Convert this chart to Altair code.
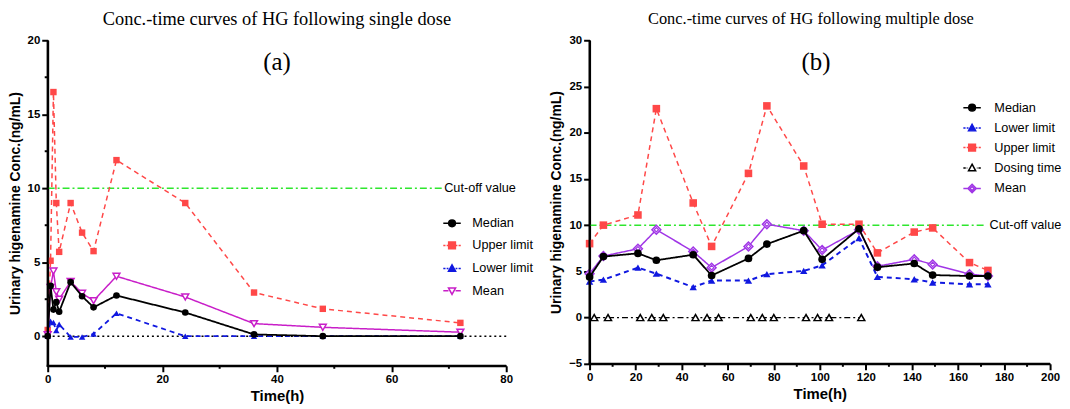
import altair as alt
import pandas as pd

# ---------------- Panel (a): single dose ----------------
a_time = [0, 0.5, 1, 1.5, 2, 4, 6, 8, 12, 24, 36, 48, 72]
a_median = [0, 3.4, 1.8, 2.3, 1.65, 3.65, 2.7, 1.95, 2.75, 1.6, 0.12, 0, 0]
a_upper = [0.42, 5.1, 16.5, 9.0, 5.7, 9.0, 7.0, 5.75, 11.9, 9.0, 2.95, 1.85, 0.9]
a_lower = [0, 1.0, 0.92, 0.38, 0.8, -0.05, -0.05, 0.15, 1.55, 0, 0, 0, 0]
a_mean = [0.1, 3.3, 4.4, 3.0, 2.5, 3.7, 2.9, 2.4, 4.05, 2.65, 0.85, 0.6, 0.27]
a_names = ["Median", "Upper limit", "Lower limit", "Mean"]
a_cutoff_end = 69
a_xdom = [0, 80]
a_ydom = [-2, 20]
a_xmajor = [0, 20, 40, 60, 80]
a_xminor = [10, 30, 50, 70]
a_ymajor = [0, 5, 10, 15, 20]
a_yminor = [2.5, 7.5, 12.5, 17.5]

# ---------------- Panel (b): multiple dose ----------------
b_time = [0, 6, 21, 29, 45, 53, 69, 77, 93, 101, 117, 125, 141, 149, 165, 173]
b_median = [4.4, 6.6, 6.95, 6.2, 6.8, 4.55, 6.4, 7.95, 9.4, 6.3, 9.6, 5.45, 5.85, 4.6, 4.5, 4.5]
b_lower = [3.9, 4.1, 5.4, 4.75, 3.3, 4.0, 4.0, 4.7, 5.05, 5.65, 8.6, 4.4, 4.15, 3.8, 3.6, 3.6]
b_upper = [8.0, 10.0, 11.1, 22.6, 12.4, 7.7, 15.6, 22.9, 16.4, 10.1, 10.1, 7.0, 9.25, 9.7, 5.95, 5.1]
b_mean = [4.75, 6.65, 7.45, 9.5, 7.15, 5.4, 7.7, 10.1, 9.4, 7.3, 9.5, 5.55, 6.3, 5.75, 4.7, 4.5]
b_dosing = [2, 8, 22, 27, 32, 46, 51, 56, 70, 75, 80, 94, 99, 104, 118]
b_names = ["Median", "Lower limit", "Upper limit", "Dosing time", "Mean"]
b_cutoff_end = 172
b_xdom = [0, 200]
b_ydom = [-5, 30]
b_xmajor = list(range(0, 201, 20))
b_xminor = list(range(10, 200, 20))
b_ymajor = [-5, 0, 5, 10, 15, 20, 25, 30]

cutoff = 10

# ---------------- styles ----------------
C_MED = "#000000"
C_UP = "#FF4848"
C_LO = "#1018E0"
C_MEAN_A = "#C81EC8"
C_MEAN_B = "#A035E6"
C_CUT = "#2EE62E"

SANS = "Liberation Sans"
SERIF = "Liberation Serif"

# legend glyphs (line + marker) as custom symbol paths
seg_solid = "M-2.2,0L-0.9,0M0.9,0L2.2,0"
seg_dash = "M-2.2,0L-1.65,0M-1.35,0L-0.9,0M0.9,0L1.35,0M1.65,0L2.2,0"
seg_dashdot = "M-2.2,0L-1.6,0M-1.35,0L-1.2,0M1.2,0L1.35,0M1.6,0L2.2,0"
m_circle = "M0.85,0A0.85,0.85 0 1,1 -0.85,0A0.85,0.85 0 1,1 0.85,0Z"
m_square = "M-0.85,-0.85L0.85,-0.85L0.85,0.85L-0.85,0.85Z"
m_tri_up = "M0,-0.95L0.9,0.7L-0.9,0.7Z"
m_tri_dn = "M0,0.95L0.9,-0.7L-0.9,-0.7Z"
m_diamond = "M0,-1.05L1.05,0L0,1.05L-1.05,0Z"
m_diamond2 = m_diamond + "M0,-0.5L0.5,0L0,0.5L-0.5,0Z"


def axis(values, title, title_size, title_pad):
    return alt.Axis(
        values=values, title=title, grid=False,
        domain=True, domainColor="#000000", domainWidth=2,
        ticks=True, tickSize=6, tickColor="#000000", tickWidth=2,
        labelFlush=False,
        labelFont=SANS, labelFontWeight="bold", labelFontSize=11.5, labelColor="black",
        labelPadding=2, titleFont=SANS, titleFontWeight="bold", titleColor="black",
        titleFontSize=title_size, titlePadding=title_pad,
    )


def axis_frame(x_enc, y_enc, xminor, yminor, width, height):
    """Axis lines and minor tick marks drawn as rules (tick positions through the scales)."""
    layers = []
    frame = pd.DataFrame({"edge": ["x", "y"]})
    layers.append(alt.Chart(frame).transform_filter("datum.edge == 'x'")
                  .mark_rule(color="#000000", strokeWidth=2.2, opacity=1)
                  .encode(x=alt.value(-1), x2=alt.value(width), y=alt.value(height)))
    layers.append(alt.Chart(frame).transform_filter("datum.edge == 'y'")
                  .mark_rule(color="#000000", strokeWidth=2.2, opacity=1)
                  .encode(x=alt.value(0), y=alt.value(0), y2=alt.value(height + 1)))
    if xminor:
        d = pd.DataFrame({"t": xminor})
        layers.append(alt.Chart(d).mark_rule(color="#000000", strokeWidth=2)
                      .encode(x=x_enc, y=alt.value(height), y2=alt.value(height + 3)))
    if yminor:
        d = pd.DataFrame({"v": yminor})
        layers.append(alt.Chart(d).mark_rule(color="#000000", strokeWidth=2)
                      .encode(y=y_enc, x=alt.value(0), x2=alt.value(-3)))
    return layers


def series(x_enc, y_enc, t, v, color, dash, width, shape, size, hollow=False, inner=False):
    df = pd.DataFrame({"t": t, "v": v})
    base = alt.Chart(df).encode(x=x_enc, y=y_enc)
    line = base.mark_line(color=color, strokeDash=dash, strokeWidth=width)
    if hollow:
        pts = base.mark_point(shape=shape, size=size, filled=True, fill="white",
                              stroke=color, strokeWidth=1.5, opacity=1)
    else:
        pts = base.mark_point(shape=shape, size=size, filled=True, color=color, opacity=1)
    layers = [line, pts]
    if inner:
        layers.append(base.mark_point(shape=shape, size=size * 0.25, filled=True, fill="white",
                                      stroke=color, strokeWidth=1.2, opacity=1))
    return layers


def legend_layer(names, paths, strokes, fills, lx, ly, row_pad, label_off):
    leg = alt.Legend(
        title=None, orient="none", legendX=lx, legendY=ly, padding=0,
        symbolSize=64, symbolStrokeWidth=1.5, symbolOpacity=1,
        labelFont=SANS, labelFontSize=12.8, labelColor="black",
        labelOffset=label_off, rowPadding=row_pad, symbolLimit=0,
    )
    df = pd.DataFrame({"series": names})
    return alt.Chart(df).mark_point(opacity=0).encode(
        shape=alt.Shape("series:N", scale=alt.Scale(domain=names, range=paths), legend=leg),
        fill=alt.Fill("series:N", scale=alt.Scale(domain=names, range=fills), legend=leg),
        stroke=alt.Stroke("series:N", scale=alt.Scale(domain=names, range=strokes), legend=leg),
    )


YTITLE = "Urinary higenamine Conc.(ng/mL)"

# ================= Panel (a) =================
A_W, A_H = 462, 328
xa_axis = axis(a_xmajor, "Time(h)", 15, 3)
ya_axis = axis(a_ymajor, YTITLE, 14, 5)
xa_scale = alt.Scale(domain=a_xdom, nice=False)
xa = alt.X("t:Q", scale=xa_scale, axis=xa_axis)
ya = alt.Y("v:Q", scale=alt.Scale(domain=a_ydom, nice=False), axis=ya_axis)

a_layers = []
a_zero = pd.DataFrame({"t": [a_xdom[0]], "t2": [a_xdom[1]], "v": [0]})
a_layers.append(alt.Chart(a_zero).mark_rule(color="black", strokeDash=[2, 3], strokeWidth=1.5)
                .encode(x=xa, x2="t2:Q", y=ya))
a_cut = pd.DataFrame({"t": [0], "t2": [a_cutoff_end], "v": [cutoff], "label": ["Cut-off value"]})
a_layers.append(alt.Chart(a_cut).mark_rule(color=C_CUT, strokeDash=[7, 3, 2, 3], strokeWidth=1.5)
                .encode(x=xa, x2="t2:Q", y=ya))
a_layers.append(alt.Chart(a_cut).mark_text(align="left", baseline="middle", dx=1, font=SANS,
                                           fontSize=12.8, color="black")
                .encode(x=alt.X("t2:Q", scale=xa_scale, axis=xa_axis), y=ya, text="label:N"))
a_layers += series(xa, ya, a_time, a_upper, C_UP, [5, 4], 1.5, "square", 42)
a_layers += series(xa, ya, a_time, a_lower, C_LO, [5, 4], 1.8, "triangle-up", 42)
a_layers += series(xa, ya, a_time, a_mean, C_MEAN_A, [1, 0], 1.5, "triangle-down", 48, hollow=True)
a_layers += series(xa, ya, a_time, a_median, C_MED, [1, 0], 1.8, "circle", 45)
a_lab = pd.DataFrame({"t": [40], "v": [18.5], "label": ["(a)"]})
a_layers.append(alt.Chart(a_lab).mark_text(font=SERIF, fontSize=25, color="black", baseline="middle")
                .encode(x=xa, y=ya, text="label:N"))
a_layers.append(legend_layer(
    a_names,
    [seg_solid + m_circle, seg_dash + m_square, seg_dash + m_tri_up, seg_solid + m_tri_dn],
    [C_MED, C_UP, C_LO, C_MEAN_A],
    [C_MED, C_UP, C_LO, "white"],
    401, 178, 8.3, 14))
a_layers += axis_frame(xa, ya, a_xminor, a_yminor, A_W, A_H)

chart_a = alt.layer(*a_layers).properties(
    width=A_W, height=A_H,
    title=alt.TitleParams("Conc.-time curves of HG following single dose", font=SERIF,
                          fontSize=18.5, fontWeight="normal", color="black", offset=6,
                          anchor="middle"),
)

# ================= Panel (b) =================
B_W, B_H = 464, 326
xb_axis = axis(b_xmajor, "Time(h)", 15, 3)
yb_axis = axis(b_ymajor, YTITLE, 14, 5)
xb_scale = alt.Scale(domain=b_xdom, nice=False)
xb = alt.X("t:Q", scale=xb_scale, axis=xb_axis)
yb = alt.Y("v:Q", scale=alt.Scale(domain=b_ydom, nice=False), axis=yb_axis)

b_layers = []
b_cut = pd.DataFrame({"t": [0], "t2": [b_cutoff_end], "v": [cutoff], "label": ["Cut-off value"]})
b_layers.append(alt.Chart(b_cut).mark_rule(color=C_CUT, strokeDash=[7, 3, 2, 3], strokeWidth=1.5)
                .encode(x=xb, x2="t2:Q", y=yb))
b_layers.append(alt.Chart(b_cut).mark_text(align="left", baseline="middle", dx=4, font=SANS,
                                           fontSize=12.8, color="black")
                .encode(x=alt.X("t2:Q", scale=xb_scale, axis=xb_axis), y=yb, text="label:N"))
b_layers += series(xb, yb, b_dosing, [0] * len(b_dosing), C_MED, [6, 3, 2, 3], 1.2,
                   "triangle-up", 50, hollow=True)
b_layers += series(xb, yb, b_time, b_upper, C_UP, [5, 4], 1.5, "square", 58)
b_layers += series(xb, yb, b_time, b_lower, C_LO, [5, 4], 2, "triangle-up", 55)
b_layers += series(xb, yb, b_time, b_mean, C_MEAN_B, [1, 0], 1.5, "diamond", 80, hollow=True, inner=True)
b_layers += series(xb, yb, b_time, b_median, C_MED, [1, 0], 1.8, "circle", 60)
b_lab = pd.DataFrame({"t": [98.3], "v": [27.6], "label": ["(b)"]})
b_layers.append(alt.Chart(b_lab).mark_text(font=SERIF, fontSize=25, color="black", baseline="middle")
                .encode(x=xb, y=yb, text="label:N"))
b_layers.append(legend_layer(
    b_names,
    [seg_solid + m_circle, seg_dash + m_tri_up, seg_dash + m_square, seg_dashdot + m_tri_up,
     seg_solid + m_diamond2],
    [C_MED, C_LO, C_UP, C_MED, C_MEAN_B],
    [C_MED, C_LO, C_UP, "white", "white"],
    379, 61.5, 5.6, 16))
b_layers += axis_frame(xb, yb, b_xminor, [], B_W, B_H)

chart_b = alt.layer(*b_layers).properties(
    width=B_W, height=B_H,
    title=alt.TitleParams("Conc.-time curves of HG following multiple dose", font=SERIF,
                          fontSize=16.5, fontWeight="normal", color="black", offset=7,
                          anchor="middle", dx=-9),
)

chart = (
    alt.hconcat(chart_a, chart_b, spacing=84, bounds="flush")
    .resolve_scale(x="independent", y="independent", shape="independent",
                   fill="independent", stroke="independent")
    .resolve_legend(shape="independent", fill="independent", stroke="independent")
    .properties(padding=0, background="white")
    .configure_view(stroke=None)
)

chart.save("out.html", embed_options={"renderer": "svg", "actions": False})
